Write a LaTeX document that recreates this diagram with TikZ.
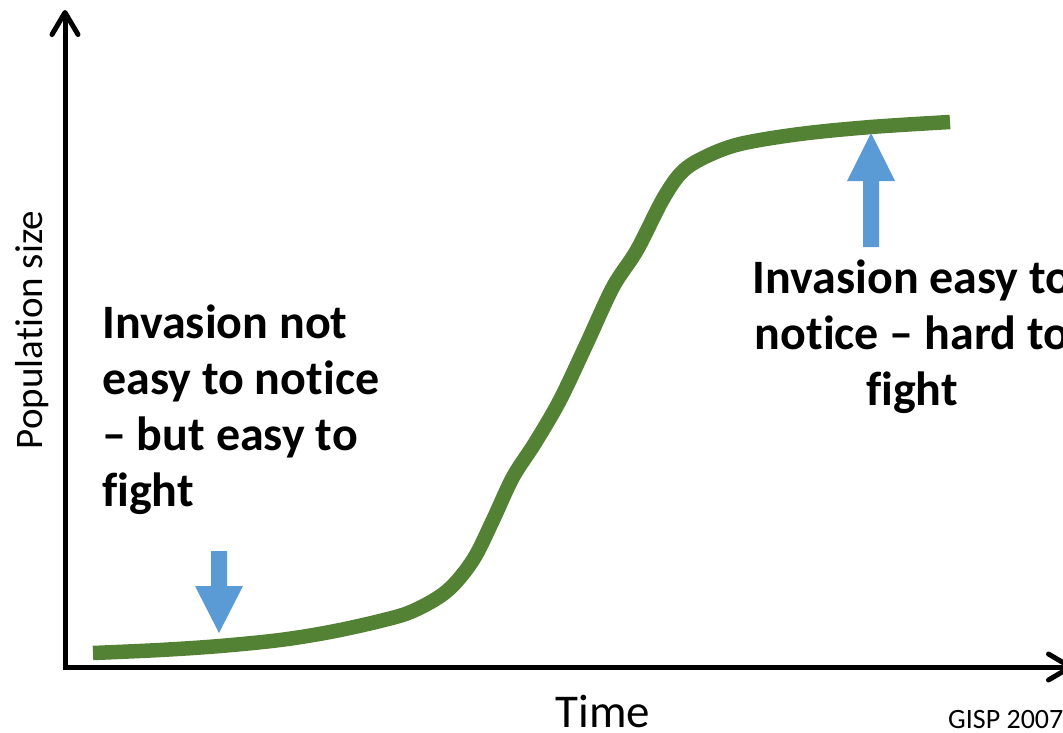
\documentclass[tikz,border=0pt]{standalone}
\usepackage{fontspec}
\setmainfont[Ligatures={NoCommon,NoContextual},RawFeature={-liga;-clig;-dlig}]{Carlito}
\usetikzlibrary{arrows.meta}
\definecolor{curvegreen}{HTML}{548235}
\definecolor{markblue}{HTML}{5B9BD5}
\newcommand{\nolig}{\kern0pt }
\tikzset{
  axisline/.style={line width=5pt, line join=miter,
    {Straight Barb[length=22pt,width=26pt,line cap=round,line join=round]}-{Straight Barb[length=22pt,width=26pt,line cap=round,line join=round]}},
  growth/.style={curvegreen, line width=14.5pt, line cap=butt},
  pointer/.style={fill=markblue, draw=none},
  boldnote/.style={inner sep=0pt, font=\bfseries\fontsize{48}{56}\selectfont},
  axislabel/.style={inner sep=0pt},
}
\begin{document}
\begin{tikzpicture}[x=1pt,y=-1pt]
\useasboundingbox (0,0) rectangle (1063,733);
% axes
\coordinate (ytip) at (65,10);
\coordinate (origin) at (65,667);
\coordinate (xtip) at (1073,667);
\draw[axisline] (ytip) |- (xtip);
% growth curve
\draw[growth] plot[smooth, tension=0.55] coordinates {
  (93,653) (160,650) (220,646) (280,640) (330,632) (380,621) (413,611) (447,591)
  (473,560) (493,520) (513,477) (535,443) (560,400) (587,343) (613,287)
  (637,250) (663,199) (682,172) (705,157) (740,144) (800,134) (871,127) (950,122)};
% blue pointers
\fill[pointer] (211,551) -- (227,551) -- (227,586) -- (243,586) -- (219,633) -- (195,586) -- (211,586) -- cycle;
\fill[pointer] (863,247) -- (879,247) -- (879,181) -- (895,181) -- (871,133) -- (847,181) -- (863,181) -- cycle;
% texts
\node[boldnote, anchor=north west, align=left] (early) at (102,305)
  {Invasion not\\easy to not\nolig ice\\– but easy to\\f\nolig ight};
\node[boldnote, anchor=north, align=center] (late) at (912,260)
  {Invasion easy to\\not\nolig ice – hard to\\f\nolig ight};
\node[axislabel, anchor=base, font=\fontsize{47}{56}\selectfont] (time) at (603,727) {Time};
\node[axislabel, anchor=base, rotate=90, font=\fontsize{39}{46}\selectfont] (pop) at (42,330) {Population size};
\node[axislabel, anchor=base west, font=\fontsize{28}{32}\selectfont] (credit) at (948,728) {GISP 2007};
\end{tikzpicture}
\end{document}
